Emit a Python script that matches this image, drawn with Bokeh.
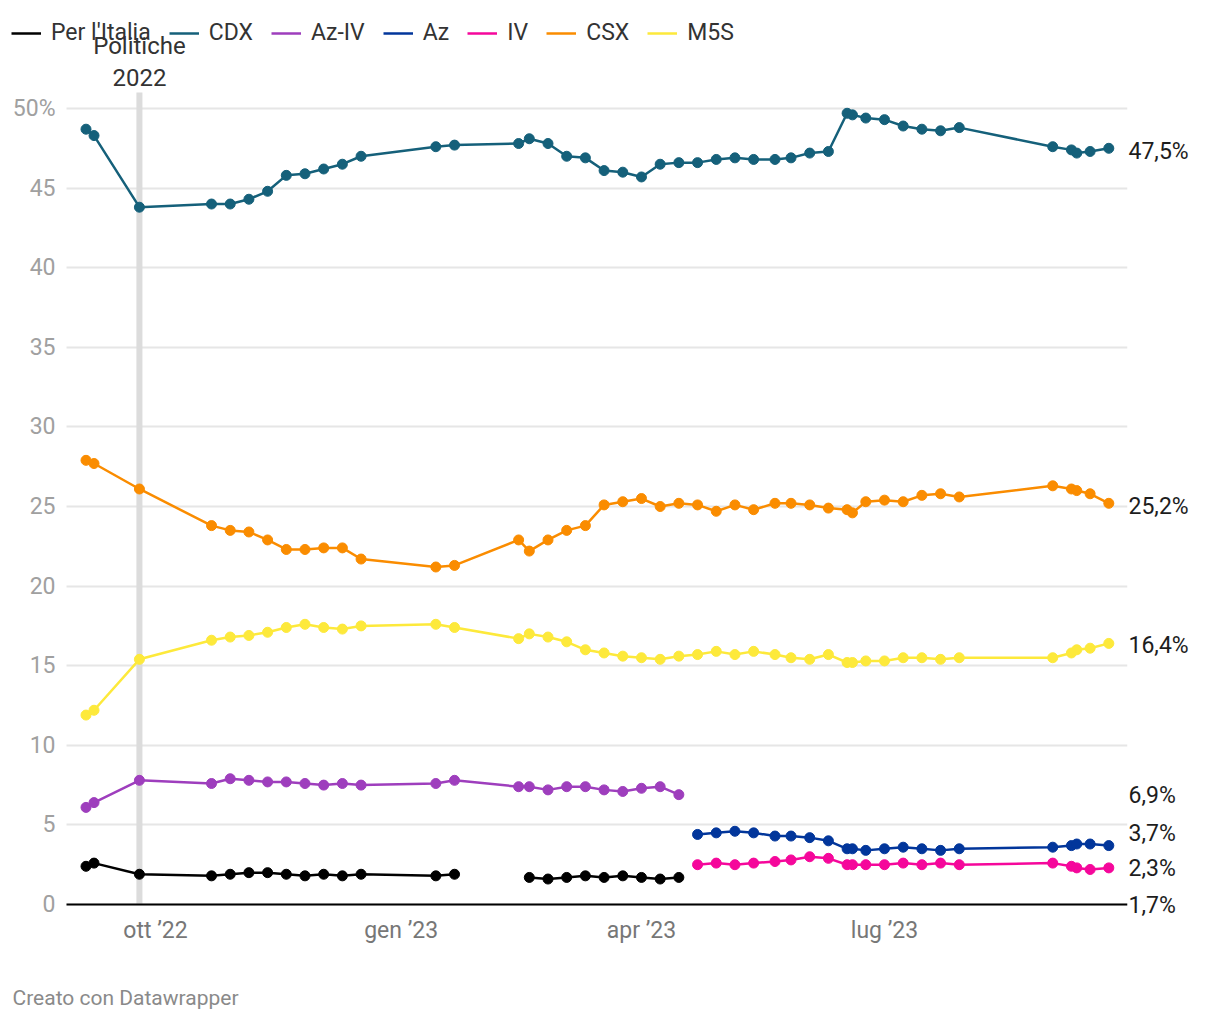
import numpy as np
import pandas as pd
from bokeh.plotting import figure
from bokeh.models import (ColumnDataSource, Range1d, FixedTicker, Legend, LegendItem,
                          Label, LinearAxis, BoxAnnotation)
from bokeh.embed import file_html
from bokeh.resources import INLINE

nan = float("nan")

# ---- data -------------------------------------------------------------
dates = [
    "2022-09-05", "2022-09-08", "2022-09-25", "2022-10-22", "2022-10-29",
    "2022-11-05", "2022-11-12", "2022-11-19", "2022-11-26", "2022-12-03",
    "2022-12-10", "2022-12-17", "2023-01-14", "2023-01-21", "2023-02-14",
    "2023-02-18", "2023-02-25", "2023-03-04", "2023-03-11", "2023-03-18",
    "2023-03-25", "2023-04-01", "2023-04-08", "2023-04-15", "2023-04-22",
    "2023-04-29", "2023-05-06", "2023-05-13", "2023-05-21", "2023-05-27",
    "2023-06-03", "2023-06-10", "2023-06-17", "2023-06-19", "2023-06-24",
    "2023-07-01", "2023-07-08", "2023-07-15", "2023-07-22", "2023-07-29",
    "2023-09-02", "2023-09-09", "2023-09-11", "2023-09-16", "2023-09-23",
]

cdx = [48.7, 48.3, 43.8, 44.0, 44.0, 44.3, 44.8, 45.8, 45.9, 46.2, 46.5, 47.0,
       47.6, 47.7, 47.8, 48.1, 47.8, 47.0, 46.9, 46.1, 46.0, 45.7, 46.5, 46.6,
       46.6, 46.8, 46.9, 46.8, 46.8, 46.9, 47.2, 47.3, 49.7, 49.6, 49.4, 49.3,
       48.9, 48.7, 48.6, 48.8, 47.6, 47.4, 47.2, 47.3, 47.5]

csx = [27.9, 27.7, 26.1, 23.8, 23.5, 23.4, 22.9, 22.3, 22.3, 22.4, 22.4, 21.7,
       21.2, 21.3, 22.9, 22.2, 22.9, 23.5, 23.8, 25.1, 25.3, 25.5, 25.0, 25.2,
       25.1, 24.7, 25.1, 24.8, 25.2, 25.2, 25.1, 24.9, 24.8, 24.6, 25.3, 25.4,
       25.3, 25.7, 25.8, 25.6, 26.3, 26.1, 26.0, 25.8, 25.2]

m5s = [11.9, 12.2, 15.4, 16.6, 16.8, 16.9, 17.1, 17.4, 17.6, 17.4, 17.3, 17.5,
       17.6, 17.4, 16.7, 17.0, 16.8, 16.5, 16.0, 15.8, 15.6, 15.5, 15.4, 15.6,
       15.7, 15.9, 15.7, 15.9, 15.7, 15.5, 15.4, 15.7, 15.2, 15.2, 15.3, 15.3,
       15.5, 15.5, 15.4, 15.5, 15.5, 15.8, 16.0, 16.1, 16.4]

az_iv = [6.1, 6.4, 7.8, 7.6, 7.9, 7.8, 7.7, 7.7, 7.6, 7.5, 7.6, 7.5,
         7.6, 7.8, 7.4, 7.4, 7.2, 7.4, 7.4, 7.2, 7.1, 7.3, 7.4, 6.9] + [nan] * 21

per_italia = [2.4, 2.6, 1.9, 1.8, 1.9, 2.0, 2.0, 1.9, 1.8, 1.9, 1.8, 1.9,
              1.8, 1.9, nan, 1.7, 1.6, 1.7, 1.8, 1.7, 1.8, 1.7, 1.6, 1.7] + [nan] * 21

az = [nan] * 24 + [4.4, 4.5, 4.6, 4.5, 4.3, 4.3, 4.2, 4.0, 3.5, 3.5, 3.4, 3.5,
                   3.6, 3.5, 3.4, 3.5, 3.6, 3.7, 3.8, 3.8, 3.7]

iv = [nan] * 24 + [2.5, 2.6, 2.5, 2.6, 2.7, 2.8, 3.0, 2.9, 2.5, 2.5, 2.5, 2.5,
                   2.6, 2.5, 2.6, 2.5, 2.6, 2.4, 2.3, 2.2, 2.3]

series_names = ["Per l'Italia", "CDX", "Az-IV", "Az", "IV", "CSX", "M5S"]
series_values = [per_italia, cdx, az_iv, az, iv, csx, m5s]
series_colors = ["#000000", "#15607a", "#9e3ebd", "#02369b", "#f5079b", "#fa8c00", "#fde93b"]

election_date = "2022-09-25"
tick_dates = ["2022-10-01", "2023-01-01", "2023-04-01", "2023-07-01"]
tick_labels = ["ott \u201922", "gen \u201923", "apr \u201923", "lug \u201923"]
y_ticks = [0, 5, 10, 15, 20, 25, 30, 35, 40, 45, 50]

# label order on the right and their pixel nudges (style only, + = down)
right_label_order = ["CDX", "CSX", "M5S", "Az-IV", "Az", "IV", "Per l'Italia"]
right_label_nudge = [3, 3, 2, 1, -12, 1, 28]


def ms(d):
    return pd.Timestamp(d).value / 1e6


# ---- geometry (pixels) ------------------------------------------------
DAY = 86400000.0
PX_PER_DAY = 2.67
PX_PER_UNIT = 15.92
W, H = 1212, 1018
FRAME_LEFT = 4          # frame starts here (room for legend / footer)
AREA_LEFT = 66          # visible chart area (grid / baseline) starts here
AREA_RIGHT = 1127
ZERO_Y = 904            # pixel row of value 0

area_start = ms("2022-10-01") - 33.3 * DAY
area_end = ms("2022-10-01") + 364.0 * DAY
frame_start = area_start - (AREA_LEFT - FRAME_LEFT) / PX_PER_DAY * DAY
Y_TOP = ZERO_Y / PX_PER_UNIT
Y_BOTTOM = -(H - ZERO_Y) / PX_PER_UNIT

FONT = "Roboto"

p = figure(width=W, height=H, title=None,
           x_range=Range1d(frame_start, area_end), y_range=Range1d(Y_BOTTOM, Y_TOP),
           output_backend="svg", toolbar_location=None,
           min_border_left=FRAME_LEFT, min_border_right=W - AREA_RIGHT,
           min_border_top=0, min_border_bottom=0)
p.outline_line_color = None
p.background_fill_color = "white"
p.border_fill_color = "white"

# grid
p.xgrid.visible = False
p.ygrid.grid_line_color = "#e6e6e6"
p.ygrid.grid_line_width = 2
g = p.ygrid[0]
if "cross_bounds" in g.properties():
    g.cross_bounds = (area_start, area_end)
else:
    p.add_layout(BoxAnnotation(left=frame_start, right=area_start, fill_color="white",
                               fill_alpha=1, line_alpha=0, level="underlay"))

# election marker band (drawn first so it sits below the series)
band_top = 51.0
p.segment(x0=[ms(election_date)], y0=[0], x1=[ms(election_date)], y1=[band_top],
          line_color="#dcdcdc", line_width=6)

# zero baseline
p.segment(x0=[area_start], y0=[0], x1=[area_end], y1=[0],
          line_color="#000000", line_width=2)

x_dt = pd.to_datetime(dates)
items = []
for name, vals, color in zip(series_names, series_values, series_colors):
    src = ColumnDataSource(dict(x=x_dt, y=np.array(vals, dtype=float)))
    lr = p.line("x", "y", source=src, line_color=color, line_width=2.5)
    p.scatter("x", "y", source=src, size=10, fill_color=color, line_color=color)
    items.append(LegendItem(label=name, renderers=[lr]))

legend = Legend(items=items, orientation="horizontal", location=(11 - FRAME_LEFT, H - 46),
                padding=0, margin=0, spacing=18, glyph_width=30, glyph_height=24,
                label_height=24, label_standoff=10,
                label_text_font=FONT, label_text_font_size="23px",
                label_text_color="#333333",
                border_line_color=None, background_fill_alpha=0)
p.add_layout(legend)

# left axis: labels drawn to the left of the chart area
p.yaxis.ticker = FixedTicker(ticks=y_ticks)
p.yaxis.major_label_overrides = {50: "50%"}
p.yaxis.axis_line_color = None
p.yaxis.major_tick_line_color = None
p.yaxis.minor_tick_line_color = None
p.yaxis.major_tick_out = 0
p.yaxis.major_tick_in = 0
p.yaxis.major_label_text_color = "#a0a0a0"
p.yaxis.major_label_text_font = FONT
p.yaxis.major_label_text_font_size = "23px"
p.yaxis.major_label_standoff = -(AREA_LEFT - FRAME_LEFT) + 11

# bottom axis: labels just under the zero baseline
tick_ms = [ms(d) for d in tick_dates]
p.xaxis.ticker = FixedTicker(ticks=tick_ms)
p.xaxis.major_label_overrides = {t: l for t, l in zip(tick_ms, tick_labels)}
p.xaxis.axis_line_color = None
p.xaxis.major_tick_line_color = None
p.xaxis.minor_tick_line_color = None
p.xaxis.major_tick_out = 0
p.xaxis.major_tick_in = 0
p.xaxis.major_label_text_color = "#777777"
p.xaxis.major_label_text_font = FONT
p.xaxis.major_label_text_font_size = "23px"
p.xaxis.major_label_standoff = (ZERO_Y + 12) - H

# right-hand value labels via a right axis
lookup = dict(zip(series_names, series_values))
r_ticks, r_over = [], {}
for name, nudge in zip(right_label_order, right_label_nudge):
    vals = [v for v in lookup[name] if not np.isnan(v)]
    last = vals[-1]
    pos = last - nudge / PX_PER_UNIT
    r_ticks.append(pos)
    r_over[pos] = f"{last:.1f}".replace(".", ",") + "%"
raxis = LinearAxis(ticker=FixedTicker(ticks=r_ticks), major_label_overrides=r_over,
                   axis_line_color=None, major_tick_line_color=None,
                   minor_tick_line_color=None, major_tick_out=0, major_tick_in=0,
                   major_label_standoff=1,
                   major_label_text_font=FONT, major_label_text_font_size="23px",
                   major_label_text_color="#1d1d1d")
p.add_layout(raxis, "right")

# election annotation text
p.add_layout(Label(x=ms(election_date), y=50, y_offset=63, text="Politiche",
                   text_align="center", text_baseline="middle",
                   text_font=FONT, text_font_size="24px", text_color="#333333"))
p.add_layout(Label(x=ms(election_date), y=50, y_offset=31, text="2022",
                   text_align="center", text_baseline="middle",
                   text_font=FONT, text_font_size="24px", text_color="#333333"))

# footer
p.add_layout(Label(x=area_start, y=0, x_offset=12 - AREA_LEFT, y_offset=-93,
                   text="Creato con Datawrapper", text_align="left",
                   text_baseline="middle", text_font=FONT,
                   text_font_size="21px", text_color="#8a8a8a"))

open("out.html", "w").write(file_html(p, INLINE))
